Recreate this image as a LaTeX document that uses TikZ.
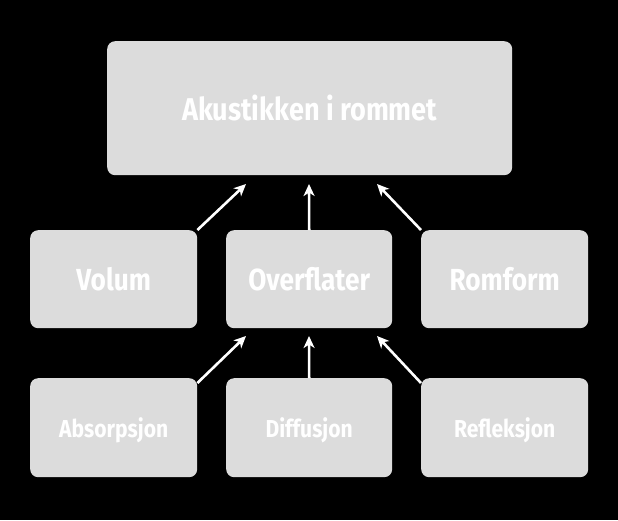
\documentclass[tikz,border=0pt]{standalone}
\usepackage{fontspec}
\setmainfont{Fira Sans}[FakeStretch=0.86]
\usetikzlibrary{arrows.meta}
\definecolor{boxgray}{HTML}{DCDCDC}
\newcommand{\lowtext}[1]{\raisebox{-3pt}[\height][\depth]{#1}}
\tikzset{
  box/.style={fill=boxgray, draw=none, rounded corners=8pt, text=white, font=\bfseries, anchor=north west, inner sep=0pt},
  bigtext/.style={font=\bfseries\fontsize{30.5}{33}\selectfont},
  toptext/.style={font=\bfseries\fontsize{31.5}{34}\selectfont},
  smalltext/.style={font=\bfseries\fontsize{24.5}{27}\selectfont},
  arr/.style={draw=white, line width=2.6pt, -{Stealth[length=12pt,width=11pt,inset=3.5pt]}}
}
\begin{document}
\begin{tikzpicture}[x=1pt,y=-1pt]
\fill[black] (0,0) rectangle (618,520);
\useasboundingbox (0,0) rectangle (618,520);
\node[box, toptext, minimum width=405pt, minimum height=134pt] (top) at (107,41) {Akustikken i rommet};
\node[box, bigtext, minimum width=167pt, minimum height=98pt] (vol) at (30,230) {Volum};
\node[box, bigtext, minimum width=166pt, minimum height=98pt] (ovr) at (226,230) {Overflater};
\node[box, bigtext, minimum width=167pt, minimum height=98pt] (rom) at (421,230) {Romform};
\node[box, smalltext, minimum width=167pt, minimum height=99pt] (abs) at (30,378) {\lowtext{Absorpsjon}};
\node[box, smalltext, minimum width=166pt, minimum height=99pt] (dif) at (226,378) {\lowtext{Diffusjon}};
\node[box, smalltext, minimum width=167pt, minimum height=99pt] (ref) at (421,378) {\lowtext{Refleksjon}};
\coordinate (t1) at (246,184);
\coordinate (t2) at (309,184);
\coordinate (t3) at (377,184);
\coordinate (m1) at (246,336);
\coordinate (m2) at (309,336);
\coordinate (m3) at (377,336);
\draw[arr] (vol.north east) -- (t1);
\draw[arr] (ovr.north) -- (t2);
\draw[arr] (rom.north west) -- (t3);
\draw[arr] (abs.north east) ++(0,5) -- (m1);
\draw[arr] (dif.north) -- (m2);
\draw[arr] (ref.north west) ++(0,5) -- (m3);
\end{tikzpicture}
\end{document}
